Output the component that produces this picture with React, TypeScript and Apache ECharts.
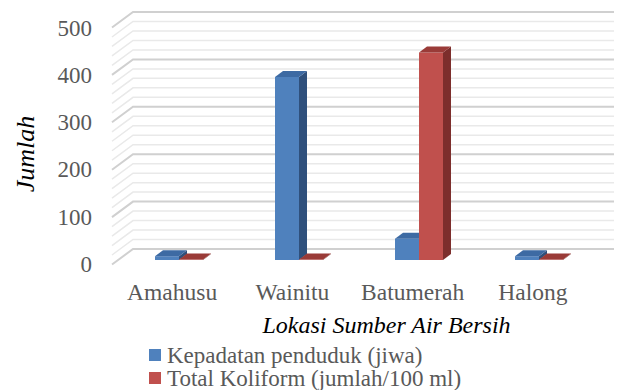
import React, { useEffect, useRef } from "react";
import * as echarts from "echarts";

const categories = ["Amahusu", "Wainitu", "Batumerah", "Halong"];
const kepadatan = [8, 386, 45, 8];
const koliform = [1, 1, 438, 1];
const seriesNames = ["Kepadatan penduduk (jiwa)", "Total Koliform (jumlah/100 ml)"];
const wallTicks = [0, 20, 40, 60, 80, 100, 120, 140, 160, 180, 200, 220, 240, 260, 280, 300, 320, 340, 360, 380, 400, 420, 440, 460, 480, 500];
const yMin = 0;
const yMax = 500;
const yInterval = 100;

const FONT = "Liberation Serif";
const GRAY = "#595959";

const faceColors = [
  { front: "#4f81bd", top: "#3d6aa3", side: "#2f507c" },
  { front: "#c0504d", top: "#9a3b38", side: "#7d2e2c" },
];

const DEPTH_X = 21;
const DEPTH_Y = 15.5;
const BAR_DX = 8;
const BAR_DY = 6;

function makeBarRenderer(sIdx: number) {
  return (params: any, api: any) => {
    const i = api.value(0);
    const v = api.value(1);
    const base = api.coord([i, 0]);
    const top = api.coord([i, v]);
    const bw = api.size([1, 0])[0] * 0.2;
    const x0 = sIdx === 0 ? base[0] - bw : base[0];
    const x1 = x0 + bw;
    const y0 = base[1];
    const y1 = top[1];
    const c = faceColors[sIdx];
    return {
      type: "group",
      children: [
        {
          type: "rect",
          shape: { x: x0, y: y1, width: bw, height: y0 - y1 },
          style: { fill: c.front },
        },
        {
          type: "polygon",
          shape: {
            points: [
              [x1, y0],
              [x1 + BAR_DX, y0 - BAR_DY],
              [x1 + BAR_DX, y1 - BAR_DY],
              [x1, y1],
            ],
          },
          style: { fill: c.side },
        },
        {
          type: "polygon",
          shape: {
            points: [
              [x0, y1],
              [x1, y1],
              [x1 + BAR_DX, y1 - BAR_DY],
              [x0 + BAR_DX, y1 - BAR_DY],
            ],
          },
          style: { fill: c.top },
        },
      ],
    };
  };
}

function renderWall(params: any, api: any) {
  const v = api.value(0);
  const cs = params.coordSys;
  const y = api.coord([0, v])[1];
  const major = v % yInterval === 0;
  return {
    type: "polyline",
    shape: {
      points: [
        [cs.x - DEPTH_X, y + DEPTH_Y],
        [cs.x, y],
        [cs.x + cs.width, y],
      ],
    },
    style: {
      fill: "none",
      stroke: major ? "#d0d0d0" : "#e9e9e9",
      lineWidth: major ? 2 : 1.5,
    },
  };
}

export default function App() {
  const ref = useRef<HTMLDivElement>(null);
  useEffect(() => {
    if (!ref.current) return;
    const chart = echarts.init(ref.current, null, { renderer: "svg" });
    const hiddenAxis = {
      axisLine: { show: false },
      axisTick: { show: false },
      axisLabel: { show: false },
      splitLine: { show: false },
    };
    const legendText = { color: GRAY, fontFamily: FONT, fontSize: 23, lineHeight: 23, padding: [0, 0, 0, 1] };
    chart.setOption({
      animation: false,
      backgroundColor: "#ffffff",
      textStyle: { fontFamily: FONT },
      grid: [
        { left: 112, width: 481, top: 28, height: 236.5 },
        { left: 133, width: 481, top: 12, height: 237 },
        { left: 119, width: 480, top: 23, height: 237 },
      ],
      xAxis: [
        {
          gridIndex: 0,
          type: "category",
          data: categories,
          axisLine: { show: false },
          axisTick: { show: false },
          splitLine: { show: false },
          axisLabel: { color: GRAY, fontFamily: FONT, fontSize: 23.5, margin: 15, interval: 0 },
        },
        { gridIndex: 1, type: "category", data: categories, ...hiddenAxis },
        { gridIndex: 2, type: "category", data: categories, ...hiddenAxis },
      ],
      yAxis: [
        {
          gridIndex: 0,
          type: "value",
          min: yMin,
          max: yMax,
          interval: yInterval,
          axisLine: { show: false },
          axisTick: { show: false },
          splitLine: { show: false },
          axisLabel: { color: GRAY, fontFamily: FONT, fontSize: 23, margin: 20 },
        },
        { gridIndex: 1, type: "value", min: yMin, max: yMax, interval: yInterval, ...hiddenAxis },
        { gridIndex: 2, type: "value", min: yMin, max: yMax, interval: yInterval, ...hiddenAxis },
      ],
      legend: [
        {
          data: [seriesNames[0]],
          left: 149,
          top: 343.5,
          padding: 0,
          icon: "rect",
          itemWidth: 12,
          itemHeight: 12,
          itemGap: 0,
          selectedMode: false,
          textStyle: legendText,
        },
        {
          data: [seriesNames[1]],
          left: 149,
          top: 366.5,
          padding: 0,
          icon: "rect",
          itemWidth: 12,
          itemHeight: 12,
          itemGap: 0,
          selectedMode: false,
          textStyle: legendText,
        },
      ],
      graphic: [
        {
          type: "text",
          x: 25,
          y: 154,
          rotation: Math.PI / 2,
          style: {
            text: "Jumlah",
            fill: "#000000",
            fontFamily: FONT,
            fontSize: 26,
            fontStyle: "italic",
            align: "center",
            verticalAlign: "middle",
          },
        },
        {
          type: "text",
          x: 386.5,
          y: 325,
          style: {
            text: "Lokasi Sumber Air Bersih",
            fill: "#000000",
            fontFamily: FONT,
            fontSize: 24,
            fontStyle: "italic",
            align: "center",
            verticalAlign: "middle",
          },
        },
      ],
      series: [
        {
          type: "custom",
          name: "wall",
          xAxisIndex: 1,
          yAxisIndex: 1,
          data: wallTicks.map((v) => [v]),
          encode: { y: 0 },
          renderItem: renderWall,
          clip: false,
          silent: true,
          z: 1,
        },
        {
          type: "custom",
          name: seriesNames[0],
          xAxisIndex: 2,
          yAxisIndex: 2,
          data: kepadatan.map((v, i) => [i, v]),
          encode: { x: 0, y: 1 },
          itemStyle: { color: faceColors[0].front },
          renderItem: makeBarRenderer(0),
          clip: false,
          z: 2,
        },
        {
          type: "custom",
          name: seriesNames[1],
          xAxisIndex: 2,
          yAxisIndex: 2,
          data: koliform.map((v, i) => [i, v]),
          encode: { x: 0, y: 1 },
          itemStyle: { color: faceColors[1].front },
          renderItem: makeBarRenderer(1),
          clip: false,
          z: 3,
        },
      ],
    });
    return () => chart.dispose();
  }, []);
  return (
    <div
      ref={ref}
      style={{ position: "fixed", left: 0, top: 0, width: 617, height: 390 }}
    />
  );
}
